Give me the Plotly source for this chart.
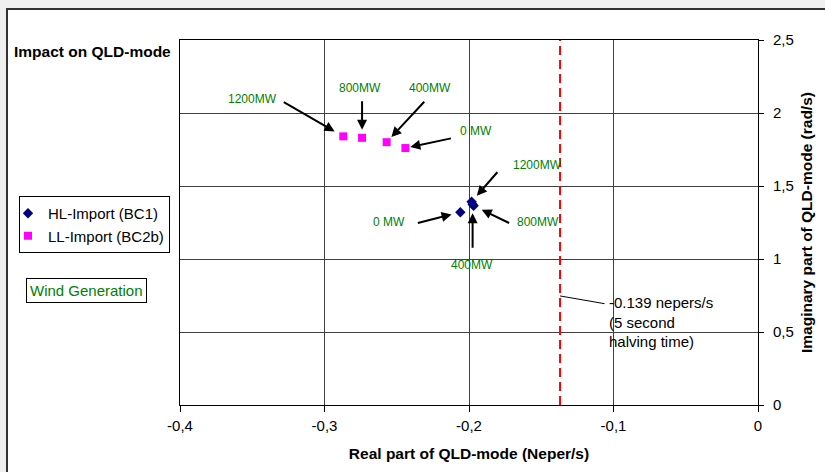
import plotly.graph_objects as go

# ---------------- data ----------------
wind_labels = ["0 MW", "400MW", "800MW", "1200MW"]

hl_re = [-0.206, -0.1975, -0.1968, -0.1982]
hl_im = [1.32, 1.375, 1.365, 1.392]

ll_re = [-0.244, -0.257, -0.274, -0.287]
ll_im = [1.76, 1.80, 1.83, 1.84]

halving_re = -0.137  # dashed limit line (labelled -0.139 nepers/s)
halving_im = [0, 2.5]

x_tickvals = [-0.4, -0.3, -0.2, -0.1, 0]
x_ticktext = ["-0,4", "-0,3", "-0,2", "-0,1", "0"]
y_tickvals = [0, 0.5, 1, 1.5, 2, 2.5]
y_ticktext = ["0", "0,5", "1", "1,5", "2", "2,5"]

# ---------------- layout helpers (positions, not data) ----------------
# arrow tails (pixel offsets from the point) and standoff
ll_arrows = [(47, -10, 5), (39, -42, 7), (0, -38, 8), (-61, -35, 10)]
hl_arrows = [(-44, 11, 9), (0, 45, 9), (37, 18, 9), (27, -31, 8)]
# label centres in data coordinates
ll_label_pos = [(-0.195, 1.877), (-0.2272, 2.173), (-0.2757, 2.173), (-0.3498, 2.096)]
hl_label_pos = [(-0.2553, 1.255), (-0.1981, 0.959), (-0.1524, 1.255), (-0.1528, 1.644)]

FONT = "Liberation Sans, Arial, sans-serif"
GREEN = "#008000"

fig = go.Figure()

fig.add_trace(go.Scatter(
    x=hl_re, y=hl_im, mode="markers", name="HL-Import (BC1)",
    marker=dict(symbol="diamond", size=8, color="#000080"),
))
fig.add_trace(go.Scatter(
    x=ll_re, y=ll_im, mode="markers", name="LL-Import (BC2b)",
    marker=dict(symbol="square", size=8, color="#FF00FF"),
))
fig.add_trace(go.Scatter(
    x=[halving_re, halving_re], y=halving_im, mode="lines", showlegend=False,
    line=dict(color="#FF0000", width=2, dash="9px,5px"), hoverinfo="skip",
))

annotations = []
for xs, ys, arrows, lpos in [(ll_re, ll_im, ll_arrows, ll_label_pos),
                             (hl_re, hl_im, hl_arrows, hl_label_pos)]:
    for i in range(len(xs)):
        ax, ay, so = arrows[i]
        annotations.append(dict(
            x=xs[i], y=ys[i], xref="x", yref="y", text="", showarrow=True,
            ax=ax, ay=ay, arrowhead=2, arrowsize=1, arrowwidth=2,
            arrowcolor="black", standoff=so,
        ))
        annotations.append(dict(
            x=lpos[i][0], y=lpos[i][1], xref="x", yref="y", text=wind_labels[i],
            showarrow=False, font=dict(family=FONT, size=12, color=GREEN),
            xanchor="center", yanchor="middle",
        ))

# halving-time leader line and text
annotations.append(dict(
    x=halving_re, y=0.747, xref="x", yref="y", text="", showarrow=True,
    ax=46, ay=8, arrowhead=0, arrowwidth=1, arrowcolor="black", standoff=0,
))
annotations.append(dict(
    x=-0.1045, y=0.775, xref="x", yref="y",
    text="-0.139 nepers/s<br>(5 second<br>halving time)",
    showarrow=False, align="left", xanchor="left", yanchor="top",
    font=dict(family=FONT, size=15, color="black"),
))
# Wind Generation box
annotations.append(dict(
    x=(86 - 180) / 578, y=(405 - 290) / 365, xref="paper", yref="paper",
    text="Wind Generation", showarrow=False,
    font=dict(family=FONT, size=15, color=GREEN),
    bordercolor="black", borderwidth=1, borderpad=3, bgcolor="white",
    xanchor="center", yanchor="middle",
))

fig.update_layout(
    template="none",
    width=825, height=472,
    margin=dict(l=180, r=67, t=40, b=67, autoexpand=False),
    paper_bgcolor="#f0f0f0",
    plot_bgcolor="white",
    font=dict(family=FONT, size=15, color="black"),
    title=dict(text="Impact on QLD-mode", x=14 / 825, xref="container", xanchor="left",
               y=1 - 52 / 472, yref="container", yanchor="middle",
               font=dict(family=FONT, size=15.5, color="black", weight="bold")),
    showlegend=True,
    legend=dict(x=(19 - 180) / 578, y=(405 - 196) / 365, xanchor="left", yanchor="top",
                bgcolor="white", bordercolor="black", borderwidth=1,
                font=dict(family=FONT, size=15, color="black"),
                tracegroupgap=0, indentation=-12),
    annotations=annotations,
    shapes=[dict(type="rect", xref="paper", yref="paper",
                 x0=(7 - 180) / 578, x1=(830 - 180) / 578,
                 y0=(405 - 480) / 365, y1=(405 - 9) / 365,
                 line=dict(color="#333333", width=2), fillcolor="white", layer="below")],
    hovermode=False,
)

fig.update_xaxes(
    range=[-0.4, 0], tickvals=x_tickvals, ticktext=x_ticktext,
    showgrid=True, gridcolor="#404040", gridwidth=1, zeroline=False,
    showline=True, linecolor="black", linewidth=1, mirror=True,
    ticks="outside", ticklen=6, tickcolor="black", ticklabelstandoff=1,
    tickfont=dict(family=FONT, size=15, color="black"),
    title=dict(text="Real part of QLD-mode (Neper/s)", standoff=15,
               font=dict(family=FONT, size=15.5, color="black", weight="bold")),
    automargin=False,
)
fig.update_yaxes(
    range=[0, 2.5], side="right", tickvals=y_tickvals, ticktext=y_ticktext,
    showgrid=True, gridcolor="#404040", gridwidth=1, zeroline=False,
    showline=True, linecolor="black", linewidth=1, mirror=True,
    ticks="outside", ticklen=5, tickcolor="black", ticklabelstandoff=6,
    tickfont=dict(family=FONT, size=15, color="black"),
    title=dict(text="Imaginary part of QLD-mode (rad/s)", standoff=8,
               font=dict(family=FONT, size=15.5, color="black", weight="bold")),
    automargin=False,
)

fig.write_html("out.html")
